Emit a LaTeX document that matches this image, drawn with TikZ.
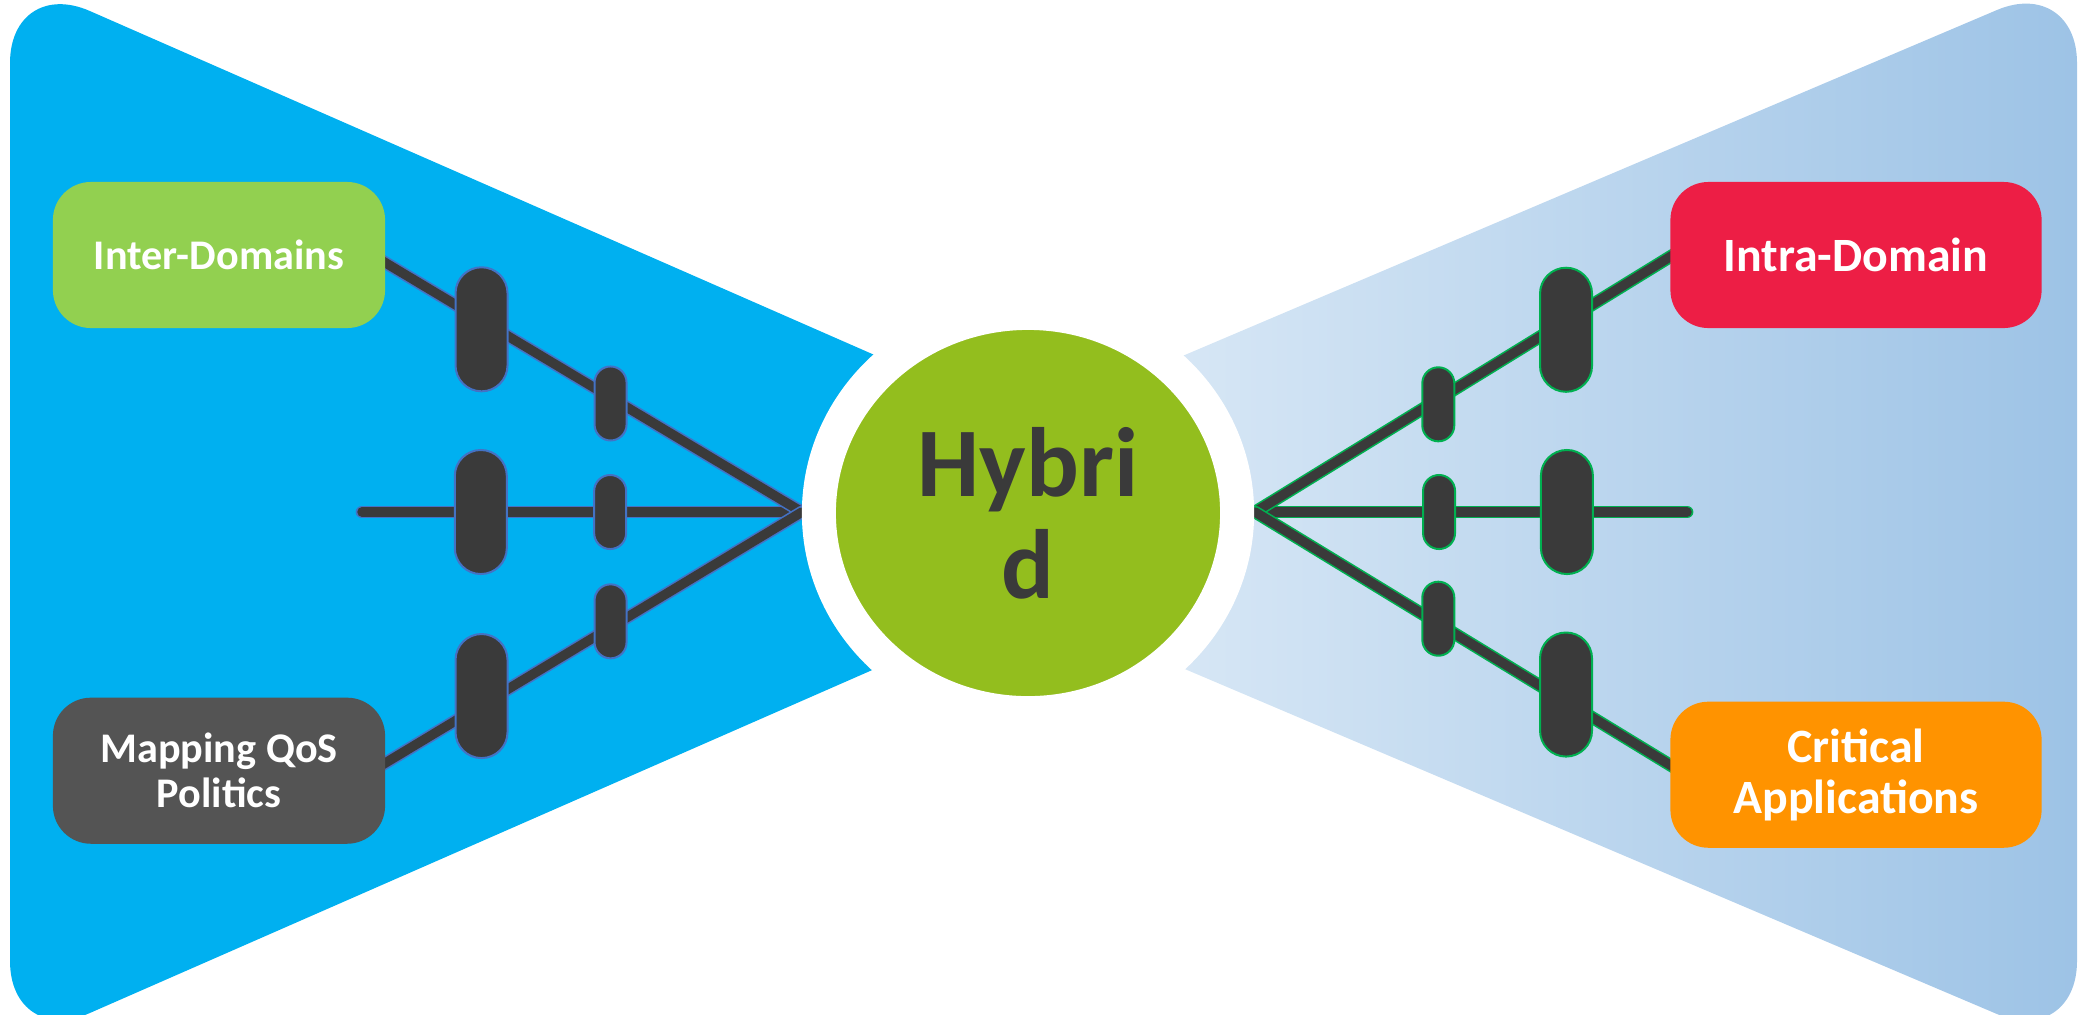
\documentclass[tikz,border=0pt]{standalone}
\usepackage{fontspec}
\setmainfont{Carlito}
\usepackage{tikz}
\usetikzlibrary{shapes.geometric, positioning, backgrounds}

\definecolor{skyblue}{HTML}{00B0F0}
\definecolor{paleblue}{HTML}{DEEBF7}
\definecolor{midblue}{HTML}{9DC3E6}
\definecolor{leafgreen}{HTML}{92D050}
\definecolor{slategrey}{HTML}{545454}
\definecolor{crimson}{HTML}{ED1E45}
\definecolor{amber}{HTML}{FF9300}
\definecolor{hubgreen}{HTML}{93BE1E}
\definecolor{hubtext}{HTML}{3A3A3A}
\definecolor{wirecore}{HTML}{3A3A3A}
\definecolor{wireblue}{HTML}{4472C4}
\definecolor{wiregreen}{HTML}{00B050}

\begin{document}
\begin{tikzpicture}[
    x=0.01cm, y=-0.01cm,
    % box styles
    box/.style       = {rectangle, rounded corners=0.38cm, minimum width=3.32cm,
                        minimum height=1.46cm, inner sep=0pt, align=center,
                        text=white, font=\fontsize{12}{12.8}\selectfont\bfseries},
    rbox/.style      = {box, minimum width=3.71cm,
                        font=\fontsize{13.6}{14.5}\selectfont\bfseries},
    hub/.style       = {ellipse, fill=hubgreen, draw=white, line width=0.34cm,
                        minimum width=4.18cm, minimum height=4cm, inner sep=0pt,
                        align=center, text=hubtext,
                        font=\fontsize{28}{29}\selectfont\bfseries},
    % wires and pills
    lwire/.style     = {draw=wireblue, double=wirecore, double distance=0.095cm,
                        line width=0.016cm, line cap=round},
    rwire/.style     = {lwire, draw=wiregreen},
    bigpill/.style   = {rectangle, rounded corners=0.26cm, minimum width=0.52cm,
                        minimum height=1.24cm, inner sep=0pt, fill=wirecore,
                        line width=0.02cm},
    smallpill/.style = {bigpill, rounded corners=0.16cm, minimum width=0.32cm,
                        minimum height=0.74cm},
]
\useasboundingbox (0,0) rectangle (2079,1014);

% ── Boxes ─────────────────────────────────────────────────────────────────────
\node[box, fill=leafgreen] (inter) at (219,255) {Inter-Domains};
\node[box, fill=slategrey, below=3.68cm of inter] (mapping) {Mapping QoS\\Politics};

\node[rbox, fill=crimson] (intra) at (1856,255) {Intra-Domain};
\node[rbox, fill=amber, below=3.72cm of intra] (critical) {Critical\\Applications};

% ── Centre ────────────────────────────────────────────────────────────────────
\node[hub] (hybrid) at (1028,513) {Hybri\\d};

\coordinate (lhub) at (802,512);
\coordinate (lend) at (362,512);
\coordinate (rhub) at (1255,512);
\coordinate (rend) at (1687,512);

\begin{scope}[on background layer]
% ── Wings ─────────────────────────────────────────────────────────────────────
\fill[skyblue, rounded corners=0.87cm]
    (1000,410) -- (10,-24) -- (10,1048) -- (1000,614) -- cycle;
\shade[left color=paleblue, right color=midblue, rounded corners=0.87cm]
    (1060,408) -- (2077,-24) -- (2077,1048) -- (1060,616) -- cycle;

% ── Left wires ────────────────────────────────────────────────────────────────
\draw[lwire] (lhub) --
    node[smallpill, draw=wireblue, pos=0.436] (ls2) {}
    node[bigpill, draw=wireblue, pos=0.73] (lb2) {} (lend);
\draw[lwire, shorten >=-0.3cm] (lhub) --
    node[smallpill, draw=wireblue, pos=0.46, yshift=-0.06cm] (ls1) {}
    node[bigpill, draw=wireblue, pos=0.77, yshift=-0.09cm] (lb1) {}
    ([yshift=-0.08cm]inter.east);
\draw[lwire, shorten >=-0.3cm] (lhub) --
    node[smallpill, draw=wireblue, pos=0.46, yshift=0.06cm] (ls3) {}
    node[bigpill, draw=wireblue, pos=0.77, yshift=0.09cm] (lb3) {}
    ([yshift=0.08cm]mapping.east);

% ── Right wires ───────────────────────────────────────────────────────────────
\draw[rwire] (rhub) --
    node[smallpill, draw=wiregreen, pos=0.426] (rs2) {}
    node[bigpill, draw=wiregreen, pos=0.722] (rb2) {} (rend);
\draw[rwire, shorten >=-0.3cm] (rhub) --
    node[smallpill, draw=wiregreen, pos=0.442, yshift=-0.05cm] (rs1) {}
    node[bigpill, draw=wiregreen, pos=0.75, yshift=-0.09cm] (rb1) {}
    ([yshift=-0.02cm]intra.west);
\draw[rwire, shorten >=-0.3cm] (rhub) --
    node[smallpill, draw=wiregreen, pos=0.442, yshift=0.05cm] (rs3) {}
    node[bigpill, draw=wiregreen, pos=0.75, yshift=0.07cm] (rb3) {}
    ([yshift=0.1cm]critical.west);
\end{scope}

\end{tikzpicture}
\end{document}
